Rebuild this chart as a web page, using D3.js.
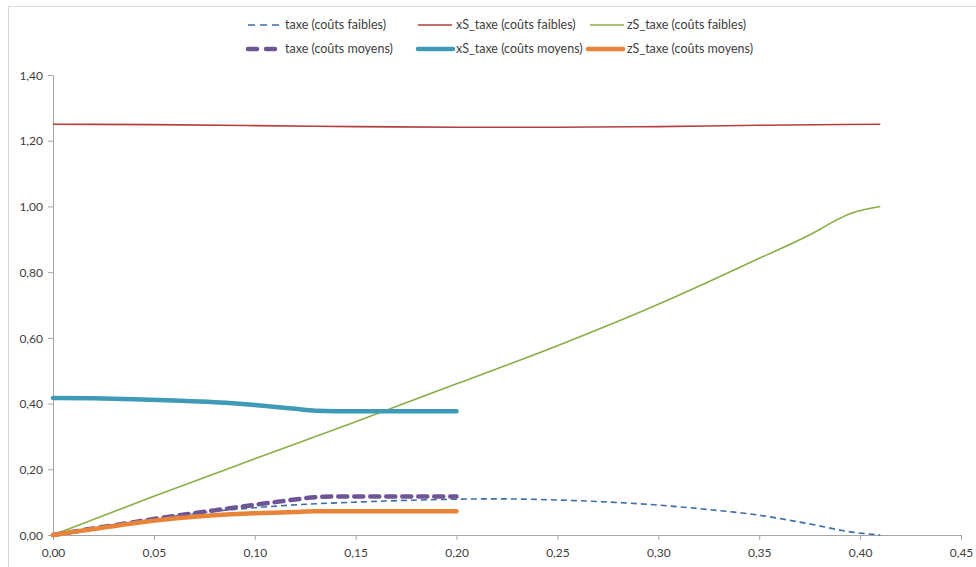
<!DOCTYPE html>
<html><head><meta charset="utf-8">
<script src="https://cdn.jsdelivr.net/npm/d3@7/dist/d3.min.js"></script>
<style>body{margin:0;background:#fff;}svg{display:block;font-family:Lato,"Open Sans",sans-serif;}</style>
</head><body><svg id="c" width="976" height="567"></svg>
<script>
// data
const xTicks = [0,0.05,0.10,0.15,0.20,0.25,0.30,0.35,0.40,0.45];
const yTicks = [0,0.2,0.4,0.6,0.8,1.0,1.2,1.4];

const taxeFaiblesX = [0,0.02,0.04,0.06,0.08,0.10,0.127,0.15,0.20,0.22,0.25,0.30,0.324,0.349,0.373,0.398,0.41];
const taxeFaiblesY = [0,0.02,0.039,0.057,0.072,0.083,0.094,0.100,0.109,0.110,0.1065,0.091,0.078,0.061,0.036,0.007,0.0];

const xsFaiblesX = [0,0.05,0.10,0.15,0.20,0.25,0.30,0.35,0.41];
const xsFaiblesY = [1.25,1.249,1.246,1.243,1.241,1.241,1.243,1.247,1.25];

const zsFaiblesX = [0,0.05,0.10,0.15,0.20,0.25,0.30,0.35,0.38,0.3865,0.395,0.41];
const zsFaiblesY = [0,0.118,0.232,0.345,0.46,0.576,0.702,0.842,0.93,0.953,0.978,1.0];

const taxeMoyensX = [0,0.02,0.04,0.06,0.08,0.10,0.12,0.13,0.14,0.20];
const taxeMoyensY = [0,0.02,0.039,0.058,0.075,0.092,0.108,0.115,0.117,0.117];

const xsMoyensX = [0,0.02,0.04,0.06,0.08,0.10,0.12,0.13,0.14,0.20];
const xsMoyensY = [0.417,0.416,0.413,0.409,0.404,0.396,0.384,0.378,0.377,0.377];

const zsMoyensX = [0,0.02,0.04,0.06,0.08,0.10,0.12,0.13,0.14,0.20];
const zsMoyensY = [0,0.018,0.036,0.050,0.060,0.066,0.070,0.072,0.072,0.072];

const seriesNames = ["taxe (coûts faibles)","xS_taxe (coûts faibles)","zS_taxe (coûts faibles)",
                     "taxe (coûts moyens)","xS_taxe (coûts moyens)","zS_taxe (coûts moyens)"];

const svg = d3.select("#c");
const x = d3.scaleLinear().domain([0,0.45]).range([53,961]);
const y = d3.scaleLinear().domain([0,1.4]).range([535,75]);
const fmt = v => d3.format(".2f")(v).replace(".", ",");

// outer border
svg.append("rect").attr("x",8.5).attr("y",6.5).attr("width",1000).attr("height",1000)
  .attr("fill","none").attr("stroke","#d9d9d9");

const axisColor = "#a6a6a6";
const gx = svg.append("g").attr("transform","translate(0,535)")
  .call(d3.axisBottom(x).tickValues(xTicks).tickFormat(fmt).tickSize(5).tickSizeOuter(0));
const gy = svg.append("g").attr("transform","translate(53,0)")
  .call(d3.axisLeft(y).tickValues(yTicks).tickFormat(fmt).tickSize(5).tickSizeOuter(0));
[gx,gy].forEach(g=>{
  g.selectAll("path,line").attr("stroke",axisColor);
  g.selectAll("text").attr("fill","#404040").style("font-size","12px").style("font-family","Lato, sans-serif");
});
gx.selectAll("text").attr("dy","1.15em");
gy.selectAll("text").attr("dx","-2").attr("dy","0.35em");

const styles = [
  {c:"#3b6ea8", w:1.6, d:"6,4", cap:"butt"},
  {c:"#b3403d", w:1.6, d:null, cap:"butt"},
  {c:"#8aae48", w:1.6, d:null, cap:"butt"},
  {c:"#6e5596", w:4.5, d:"9,7", cap:"round"},
  {c:"#3e9ab5", w:4.5, d:null, cap:"round"},
  {c:"#e8843a", w:4.5, d:null, cap:"round"}
];
const data = [
  [taxeFaiblesX,taxeFaiblesY],[xsFaiblesX,xsFaiblesY],[zsFaiblesX,zsFaiblesY],
  [taxeMoyensX,taxeMoyensY],[xsMoyensX,xsMoyensY],[zsMoyensX,zsMoyensY]
];
const line = d3.line().x(d=>x(d[0])).y(d=>y(d[1])).curve(d3.curveMonotoneX);
const order = [1,2,4,0,3,5];
order.forEach(i=>{
  const pts = data[i][0].map((v,k)=>[v,data[i][1][k]]);
  const s = styles[i];
  const p = svg.append("path").attr("d",line(pts)).attr("fill","none")
    .attr("stroke",s.c).attr("stroke-width",s.w).attr("stroke-linecap",s.cap).attr("stroke-linejoin","round");
  if (s.d) p.attr("stroke-dasharray",s.d);
});

// legend
const legPos = [
  {x1:248,x2:282,tx:285,ty:25},{x1:418,x2:452,tx:456,ty:25},{x1:590,x2:624,tx:627,ty:25},
  {x1:248,x2:280,tx:285,ty:49},{x1:418,x2:453,tx:456,ty:49},{x1:588,x2:623,tx:627,ty:49}
];
seriesNames.forEach((n,i)=>{
  const L = legPos[i], s = styles[i];
  const ln = svg.append("line").attr("x1",L.x1).attr("x2",L.x2).attr("y1",L.ty).attr("y2",L.ty)
    .attr("stroke",s.c).attr("stroke-width",s.w).attr("stroke-linecap",s.cap);
  if (s.d) ln.attr("stroke-dasharray", i===0 ? "7,5" : "9,9");
  svg.append("text").attr("x",L.tx).attr("y",L.ty).attr("dy","0.35em")
    .attr("fill","#404040").style("font-size","12.5px").text(n);
});
</script></body></html>
